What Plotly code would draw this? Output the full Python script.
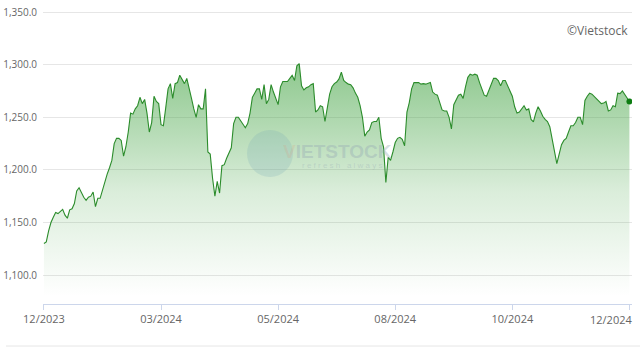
import plotly.graph_objects as go

# VN-Index closing values, one per trading session (Dec 2023 - Dec 2024)
values = [
    1130, 1131.5, 1142, 1150, 1155, 1159.5, 1158.5, 1161, 1162.5, 1157,
    1154, 1162, 1163, 1168, 1180, 1183, 1178, 1174, 1171, 1174,
    1175, 1179, 1165, 1173, 1173, 1181, 1187, 1196, 1202, 1209,
    1225, 1230, 1230, 1228, 1213, 1222, 1236, 1254, 1253, 1258,
    1261, 1269, 1263, 1267, 1254, 1236, 1245, 1270, 1265, 1263,
    1243, 1242, 1259, 1277, 1282, 1268, 1282, 1283, 1290, 1286,
    1282, 1287, 1276, 1268, 1258, 1250, 1262, 1258, 1258, 1277,
    1217, 1215, 1192, 1175, 1189, 1178, 1204, 1205, 1211, 1217,
    1221, 1244, 1250, 1250, 1247, 1244, 1240, 1244, 1254, 1269,
    1273, 1277, 1277, 1267, 1281, 1263, 1267, 1281, 1274, 1267,
    1262, 1279, 1284, 1284, 1284, 1287, 1290, 1285, 1299, 1301,
    1280, 1276, 1278, 1279, 1281, 1282, 1255, 1257, 1261, 1260,
    1246, 1259, 1272, 1279, 1282, 1283.5, 1286.5, 1293, 1285, 1283,
    1281.5, 1281, 1278, 1273, 1269, 1261, 1250, 1232, 1236, 1238,
    1245, 1246, 1246, 1250, 1230, 1222, 1188, 1212, 1209, 1217,
    1226, 1230, 1231, 1229, 1223, 1255, 1264, 1277, 1283, 1283,
    1283, 1281.5, 1282, 1281.5, 1282, 1283, 1274, 1272, 1271, 1265,
    1257, 1256, 1256, 1250, 1239, 1262, 1266, 1271, 1272, 1268,
    1279, 1288, 1291, 1290, 1291, 1290, 1283, 1276, 1271, 1270,
    1276, 1282, 1287, 1287, 1285, 1280, 1285, 1285, 1280, 1275,
    1270, 1260, 1254, 1255, 1258, 1261, 1257, 1258, 1248, 1245.6,
    1254, 1260, 1256, 1251, 1248, 1246, 1241, 1228, 1219, 1206,
    1215, 1224, 1228, 1230, 1236, 1242, 1242, 1245, 1250, 1250,
    1243, 1266, 1270, 1273, 1272, 1269.5, 1268, 1265, 1263, 1263.5,
    1265, 1256, 1257, 1261, 1260, 1273, 1272.5, 1275, 1272, 1268,
    1265,
]
sessions = list(range(len(values)))

tick_positions = [0, 50, 100, 150, 200, 250]
tick_labels = ["12/2023", "03/2024", "05/2024", "08/2024", "10/2024", "12/2024"]
y_ticks = [1100, 1150, 1200, 1250, 1300, 1350]
y_labels = ["1,100.0", "1,150.0", "1,200.0", "1,250.0", "1,300.0", "1,350.0"]

LINE = "#2b8c2b"
FONT = "Open Sans"

# plot area in pixels: left 43, right 632, top 10, bottom 304
PL, PR, PT, PB = 43, 632, 10, 304
PW, PH = PR - PL, PB - PT


def px(x):
    return (x - PL) / PW


def py(y):
    return (PB - y) / PH


fig = go.Figure()
fig.add_trace(go.Scatter(
    x=sessions, y=values, mode="lines",
    line=dict(color=LINE, width=1.1),
    fill="tozeroy",
    fillgradient=dict(type="vertical", start=1080, stop=1302,
                      colorscale=[[0, "rgba(70,165,70,0.0)"],
                                  [0.45, "rgba(70,165,70,0.2)"],
                                  [1, "rgba(70,165,70,0.62)"]]),
    hoverinfo="skip", showlegend=False,
))
fig.add_trace(go.Scatter(
    x=[sessions[-1]], y=[values[-1]], mode="markers",
    marker=dict(color="#0d7d12", size=6),
    hoverinfo="skip", showlegend=False,
))

# watermark
fig.add_shape(type="circle", xref="paper", yref="paper",
              x0=px(247), x1=px(293), y0=py(177), y1=py(130),
              fillcolor="rgba(120,170,180,0.22)", line=dict(width=0), layer="above")
fig.add_annotation(xref="paper", yref="paper", x=px(281), y=py(151),
                   text="<b><span style='color:rgba(230,140,110,0.4)'>V</span>IETSTOCK</b>",
                   showarrow=False, xanchor="left", yanchor="middle",
                   font=dict(family="Liberation Sans", size=19, color="rgba(150,170,180,0.4)"))
fig.add_annotation(xref="paper", yref="paper", x=px(300), y=py(166),
                   text="r e f r e s h   a l w a y s", showarrow=False,
                   xanchor="left", yanchor="middle",
                   font=dict(family="Liberation Sans", size=8, color="rgba(150,170,180,0.35)"))
fig.add_annotation(xref="paper", yref="paper", x=px(630), y=py(31),
                   text="©Vietstock", showarrow=False, xanchor="right", yanchor="middle",
                   font=dict(family=FONT, size=12, color="#666666"))
# last x label kept inside the chart, as in the original
fig.add_annotation(xref="paper", yref="paper", x=px(634), y=py(319),
                   text=tick_labels[-1], showarrow=False, xanchor="right", yanchor="middle",
                   font=dict(family=FONT, size=11, color="#666666"))
fig.add_shape(type="line", xref="paper", yref="paper",
              x0=px(6), x1=px(640), y0=py(346), y1=py(346),
              line=dict(color="#e6e6e6", width=1))

fig.update_layout(
    template="none",
    width=640, height=357,
    margin=dict(l=PL, r=640 - PR, t=PT, b=357 - PB, autoexpand=False),
    paper_bgcolor="white", plot_bgcolor="white",
    xaxis=dict(range=[-0.4, 251.1], tickmode="array", tickvals=tick_positions,
               ticktext=tick_labels[:-1] + [""], showgrid=False, zeroline=False,
               automargin=False,
               showline=True, linecolor="#ccd6eb", linewidth=1,
               ticks="outside", ticklen=5, tickcolor="#ccd6eb",
               tickfont=dict(family=FONT, size=11, color="#666666")),
    yaxis=dict(range=[1072.5, 1352], tickmode="array", tickvals=y_ticks,
               ticktext=y_labels, showgrid=True, gridcolor="#e6e6e6", gridwidth=1,
               zeroline=False, showline=False, ticks="", automargin=False,
               ticklabelstandoff=5,
               tickfont=dict(family=FONT, size=10, color="#666666")),
)
fig.write_html("out.html")
